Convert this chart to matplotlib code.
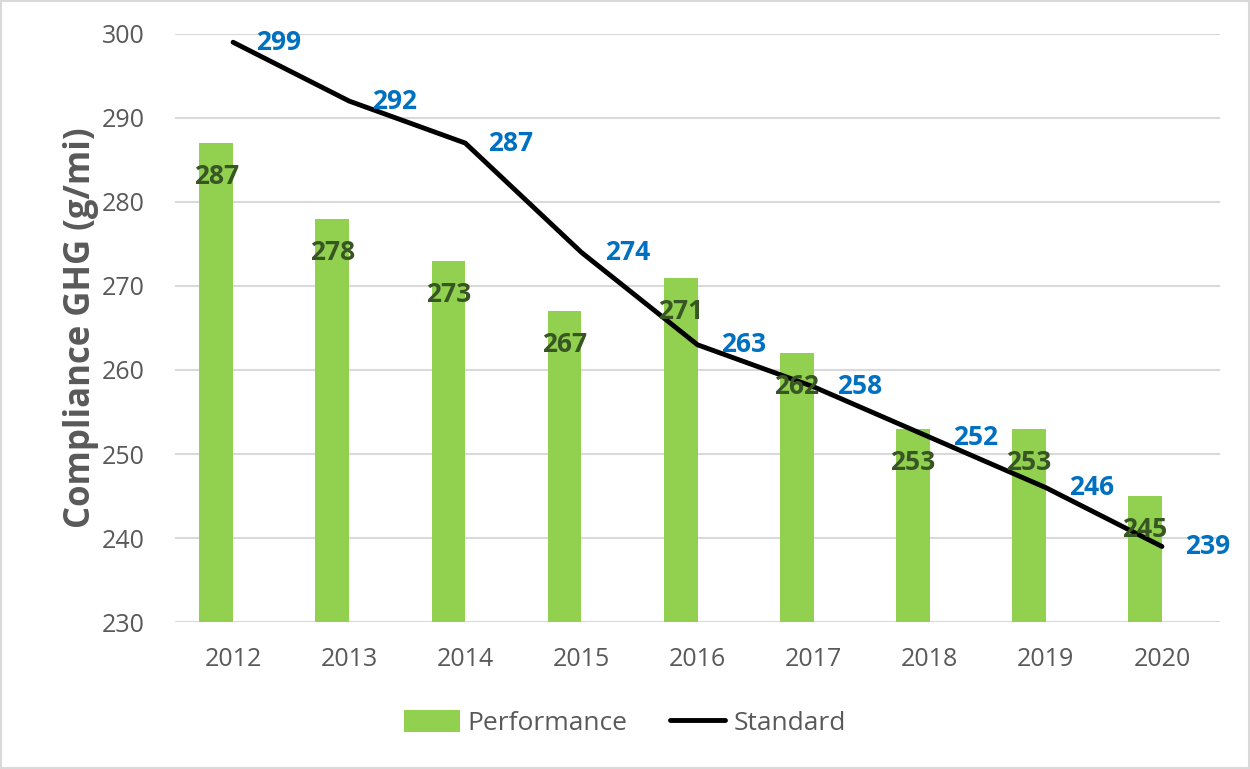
import matplotlib.pyplot as plt
import numpy as np

YEARS = ["2012", "2013", "2014", "2015", "2016", "2017", "2018", "2019", "2020"]
PERFORMANCE = [287, 278, 273, 267, 271, 262, 253, 253, 245]
STANDARD = [299, 292, 287, 274, 263, 258, 252, 246, 239]

BAR_COLOR = "#92D050"
BAR_LABEL_COLOR = "#375623"
LINE_LABEL_COLOR = "#0070C0"
TEXT_GRAY = "#595959"

plt.rcParams["font.family"] = ["Open Sans", "DejaVu Sans"]

fig = plt.figure(figsize=(12.5, 7.69), dpi=100)
ax = fig.add_axes([0.14, 0.191, 0.836, 0.765])

x = np.arange(len(YEARS))
bar_w = 0.29
ax.bar(x - bar_w / 2, PERFORMANCE, width=bar_w, color=BAR_COLOR,
       label="Performance", zorder=2)
ax.plot(x, STANDARD, color="black", linewidth=3.5, label="Standard", zorder=3,
        solid_capstyle="round")

for xi, v in zip(x, PERFORMANCE):
    ax.text(xi - bar_w / 2, v - 4.0, str(v), ha="center", va="center",
            fontsize=19, fontweight="bold", color=BAR_LABEL_COLOR, zorder=4)
for xi, v in zip(x, STANDARD):
    ax.text(xi + 0.2, v, str(v), ha="left", va="center",
            fontsize=19, fontweight="bold", color=LINE_LABEL_COLOR, zorder=4)

ax.set_xlim(-0.5, len(YEARS) - 0.5)
ax.set_ylim(230, 300)
ax.set_yticks(range(230, 301, 10))
ax.set_xticks(x)
ax.set_xticklabels(YEARS)
ax.tick_params(axis="both", length=0, labelsize=18, colors=TEXT_GRAY)
ax.tick_params(axis="y", pad=22)
ax.tick_params(axis="x", pad=18)
ax.grid(axis="y", color="#D9D9D9", linewidth=1.5, zorder=0)
ax.set_axisbelow(True)
for s in ax.spines.values():
    s.set_visible(False)

ax.set_ylabel("Compliance GHG (g/mi)", fontsize=25, fontweight="bold",
              color=TEXT_GRAY, labelpad=2)

handles, labels = ax.get_legend_handles_labels()
order = [labels.index("Performance"), labels.index("Standard")]
leg = fig.legend([handles[i] for i in order], [labels[i] for i in order],
                 loc="center", bbox_to_anchor=(0.5, 0.06), ncol=2, frameon=False,
                 fontsize=19, handlelength=2.1, handleheight=0.9, handletextpad=0.3,
                 columnspacing=1.6)
for t in leg.get_texts():
    t.set_color(TEXT_GRAY)

fig.patches.append(plt.Rectangle((0.001, 0.001), 0.998, 0.998, transform=fig.transFigure,
                                 fill=False, edgecolor="#D9D9D9", linewidth=1.5))

fig.savefig("out.png", dpi=100)
